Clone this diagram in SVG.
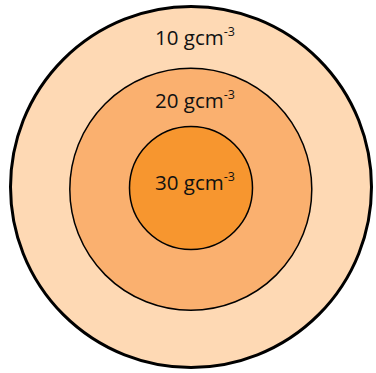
<svg xmlns="http://www.w3.org/2000/svg" width="376" height="373" viewBox="0 0 376 373">
<style>
.lbl{font-family:"Open Sans","Noto Sans",sans-serif;font-size:20.5px;fill:#111111}
.sup{font-size:12.5px}
</style>
<rect width="376" height="373" fill="#ffffff"/>
<g id="outer">
<circle cx="191" cy="187" r="180.5" fill="#fed9b4" stroke="#000" stroke-width="3"/>
<text class="lbl" x="155" y="45">10 gcm<tspan class="sup" dy="-9">-3</tspan></text>
</g>
<g id="middle">
<circle cx="190.8" cy="189.3" r="121" fill="#fab06f" stroke="#000" stroke-width="1.5"/>
<text class="lbl" x="155" y="108">20 gcm<tspan class="sup" dy="-9">-3</tspan></text>
</g>
<g id="inner">
<circle cx="191" cy="188" r="61.5" fill="#f7962f" stroke="#000" stroke-width="1.5"/>
<text class="lbl" x="155" y="190">30 gcm<tspan class="sup" dy="-9">-3</tspan></text>
</g>
</svg>
